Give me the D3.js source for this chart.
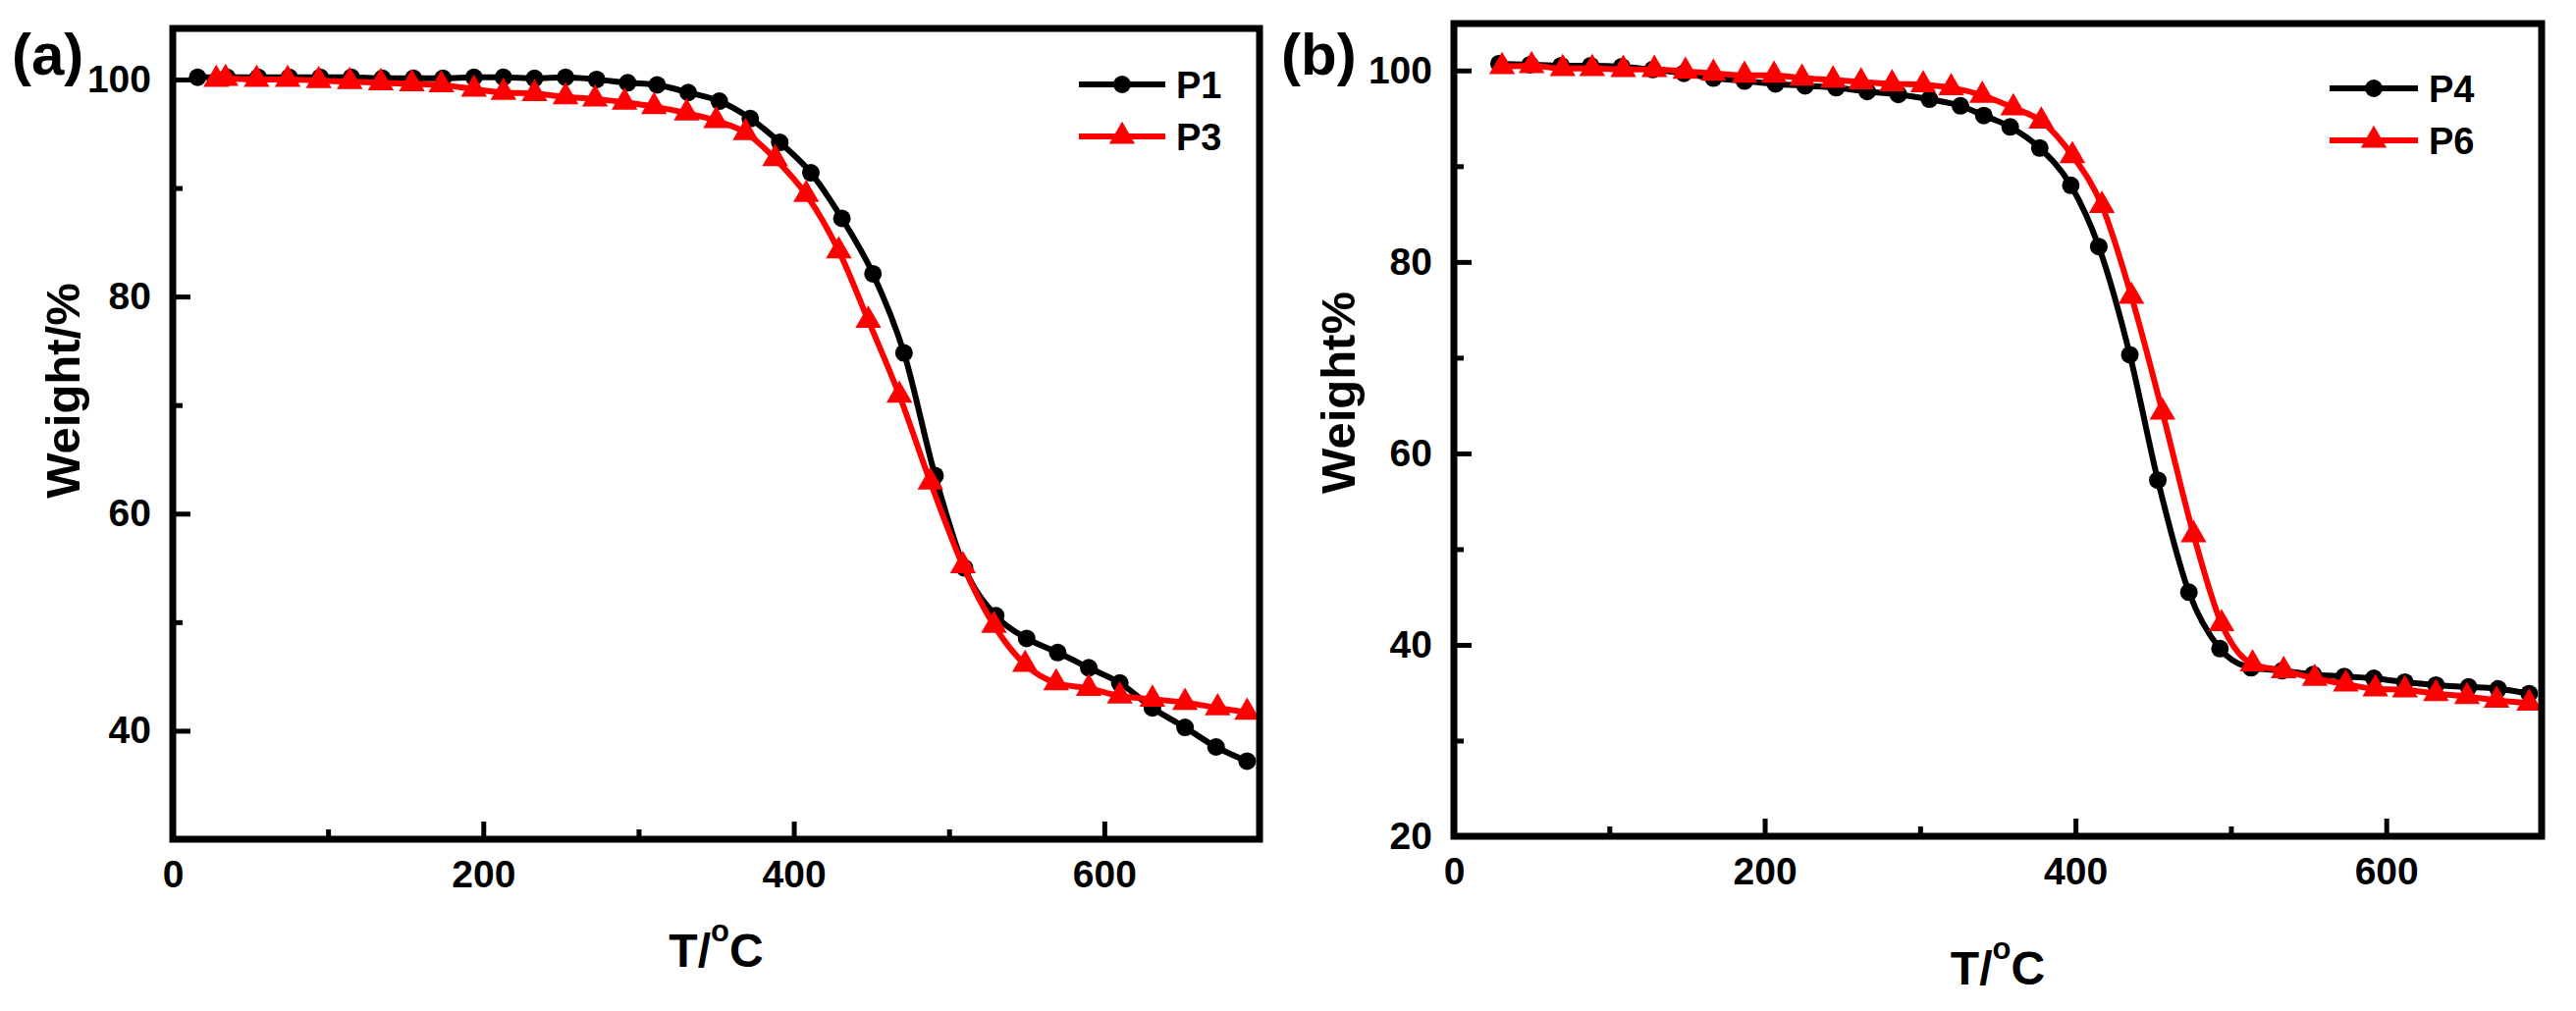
<!DOCTYPE html>
<html lang="en">
<head>
<meta charset="UTF-8">
<title>TGA curves</title>
<script src="https://cdnjs.cloudflare.com/ajax/libs/d3/7.8.5/d3.min.js"></script>
<style>
  body { margin: 0; background: #fff; }
  text { font-family: "Liberation Sans", Arial, sans-serif; font-weight: bold; fill: #000; }
</style>
</head>
<body>
<div id="chart"></div>
<script>
var W = 2624, H = 1030;

// panel (a)
var tempP1 = [16, 35, 55, 75, 95, 115, 135, 155, 174, 194, 213, 233, 253, 273, 293, 312, 332, 352, 372, 391,
  411, 431, 451, 471, 491, 510, 530, 550, 570, 590, 610, 631, 652, 672, 692];
var weightP1 = [100.2, 100.2, 100.2, 100.2, 100.2, 100.2, 100.1, 100.1, 100.1, 100.2, 100.2, 100.1, 100.2, 100.0, 99.7, 99.5, 98.8, 98.0, 96.4, 94.2,
  91.4, 87.2, 82.1, 74.8, 63.5, 55.0, 50.6, 48.5, 47.2, 45.8, 44.4, 42.1, 40.3, 38.5, 37.2];
var tempP3 = [28, 34, 54, 74, 94, 114, 134, 154, 173, 194, 213, 233, 253, 272, 291, 310, 331, 350, 369, 388,
  408, 429, 448, 468, 488, 509, 529, 549, 569, 590, 610, 631, 652, 673, 692];
var weightP3 = [100.0, 100.1, 100.0, 100.0, 99.9, 99.8, 99.7, 99.6, 99.5, 99.1, 98.8, 98.7, 98.4, 98.2, 97.9, 97.5, 96.9, 96.2, 95.1, 92.7,
  89.4, 84.2, 77.8, 70.9, 62.9, 55.2, 49.7, 46.1, 44.4, 43.9, 43.2, 42.9, 42.6, 42.1, 41.7];

// panel (b)
var tempP4 = [29, 49, 69, 88, 108, 128, 148, 167, 187, 207, 226, 246, 266, 286, 306, 326, 341, 358, 377, 397,
  415, 435, 453, 473, 493, 513, 533, 553, 573, 592, 612, 632, 653, 672, 692];
var weightP4 = [100.7, 100.6, 100.5, 100.5, 100.4, 100.1, 99.7, 99.2, 98.9, 98.6, 98.4, 98.2, 97.8, 97.5, 97.0, 96.3, 95.3, 94.1, 91.9, 88.0,
  81.6, 70.3, 57.2, 45.5, 39.6, 37.6, 37.3, 36.9, 36.7, 36.5, 36.1, 35.8, 35.6, 35.4, 34.9];
var tempP6 = [31, 50, 70, 89, 109, 129, 149, 167, 187, 206, 224, 244, 262, 282, 302, 320, 340, 360, 378, 398,
  417, 436, 456, 476, 494, 514, 534, 554, 574, 593, 612, 632, 652, 671, 692];
var weightP6 = [100.4, 100.5, 100.2, 100.2, 100.1, 100.1, 99.9, 99.7, 99.5, 99.5, 99.2, 99.0, 98.8, 98.6, 98.5, 98.2, 97.4, 96.1, 94.7, 91.1,
  85.9, 76.4, 64.3, 51.5, 42.2, 38.0, 37.3, 36.5, 35.9, 35.4, 35.3, 34.9, 34.6, 34.2, 33.9];

var xTicks = [0, 200, 400, 600];
var xMinor = [100, 300, 500];
var yTicksA = [40, 60, 80, 100];
var yMinorA = [50, 70, 90];
var yTicksB = [20, 40, 60, 80, 100];
var yMinorB = [30, 50, 70, 90];

var svg = d3.select("#chart").append("svg")
  .attr("width", W)
  .attr("height", H);

function marker(sel, shape, color) {
  if (shape === "circle") {
    sel.append("circle").attr("r", 9).attr("fill", color);
  } else {
    sel.append("path").attr("d", d3.symbol(d3.symbolTriangle, 300)()).attr("fill", color);
  }
}

function drawPanel(p) {
  var x = d3.scaleLinear().domain([0, 700]).range([p.left, p.right]);
  var y = d3.scaleLinear().domain(p.yDomain).range([p.bottom, p.top]);
  var g = svg.append("g");

  // ticks point inwards, minor ones shorter
  var axes = [
    g.append("g").attr("transform", "translate(0," + p.bottom + ")")
      .call(d3.axisBottom(x).tickValues(xMinor).tickSize(-10).tickFormat("")),
    g.append("g").attr("transform", "translate(0," + p.bottom + ")")
      .call(d3.axisBottom(x).tickValues(xTicks).tickSize(-18).tickPadding(21)),
    g.append("g").attr("transform", "translate(" + p.left + ",0)")
      .call(d3.axisLeft(y).tickValues(p.yMinor).tickSize(-10).tickFormat("")),
    g.append("g").attr("transform", "translate(" + p.left + ",0)")
      .call(d3.axisLeft(y).tickValues(p.yTicks).tickSize(-18).tickPadding(22))
  ];
  axes.forEach(function(a) {
    a.select(".domain").remove();
    a.selectAll("line").attr("stroke", "#000").attr("stroke-width", 5);
    a.selectAll("text").attr("font-size", "39px").attr("font-family", null);
  });

  var line = d3.line()
    .x(function(d) { return x(d[0]); })
    .y(function(d) { return y(d[1]); })
    .curve(d3.curveMonotoneX);

  p.series.forEach(function(s) {
    var pts = d3.zip(s.temp, s.weight);
    g.append("path")
      .datum(pts)
      .attr("d", line)
      .attr("fill", "none")
      .attr("stroke", s.color)
      .attr("stroke-width", 6);
    g.selectAll(null)
      .data(pts)
      .enter()
      .append("g")
      .attr("transform", function(d) { return "translate(" + x(d[0]) + "," + y(d[1]) + ")"; })
      .each(function() { marker(d3.select(this), s.shape, s.color); });
  });

  // frame
  g.append("rect")
    .attr("x", p.left).attr("y", p.top)
    .attr("width", p.right - p.left).attr("height", p.bottom - p.top)
    .attr("fill", "none").attr("stroke", "#000").attr("stroke-width", 7);

  // legend
  p.series.forEach(function(s, i) {
    var ly = p.legendY[i];
    var x1 = p.legendX[0], x2 = p.legendX[1];
    g.append("line").attr("x1", x1).attr("x2", x2).attr("y1", ly).attr("y2", ly)
      .attr("stroke", s.color).attr("stroke-width", 6);
    var m = g.append("g").attr("transform", "translate(" + (x1 + x2) / 2 + "," + ly + ")");
    marker(m, s.shape, s.color);
    g.append("text").attr("x", x2 + 11).attr("y", ly).attr("dy", "0.36em")
      .attr("font-size", "38px").text(s.name);
  });

  // labels
  g.append("text").attr("x", p.tagX).attr("y", 76).attr("font-size", "60px").text(p.tag);

  g.append("text")
    .attr("transform", "translate(" + p.yTitleX + "," + p.yTitleY + ") rotate(-90)")
    .attr("text-anchor", "middle").attr("dy", "0.36em")
    .attr("font-size", "49px").text(p.yTitle);

  var xt = g.append("text")
    .attr("x", (p.left + p.right) / 2).attr("y", p.xTitleY)
    .attr("text-anchor", "middle").attr("font-size", "48px");
  xt.append("tspan").text("T/");
  xt.append("tspan").attr("font-size", "31px").attr("dy", "-26").text("o");
  xt.append("tspan").attr("dy", "26").text("C");
}

drawPanel({
  left: 176, right: 1283, top: 29, bottom: 855,
  yDomain: [30, 104.7], yTicks: yTicksA, yMinor: yMinorA,
  tag: "(a)", tagX: 12, yTitle: "Weight/%", yTitleX: 63, yTitleY: 398, xTitleY: 985,
  legendX: [1099, 1187], legendY: [86, 139],
  series: [
    { name: "P1", temp: tempP1, weight: weightP1, color: "#000000", shape: "circle" },
    { name: "P3", temp: tempP3, weight: weightP3, color: "#ff0000", shape: "triangle" }
  ]
});

drawPanel({
  left: 1481, right: 2589, top: 24, bottom: 852,
  yDomain: [20, 104.9], yTicks: yTicksB, yMinor: yMinorB,
  tag: "(b)", tagX: 1305, yTitle: "Weight%", yTitleX: 1362, yTitleY: 400, xTitleY: 1003,
  legendX: [2373, 2463], legendY: [90, 143],
  series: [
    { name: "P4", temp: tempP4, weight: weightP4, color: "#000000", shape: "circle" },
    { name: "P6", temp: tempP6, weight: weightP6, color: "#ff0000", shape: "triangle" }
  ]
});
</script>
</body>
</html>
